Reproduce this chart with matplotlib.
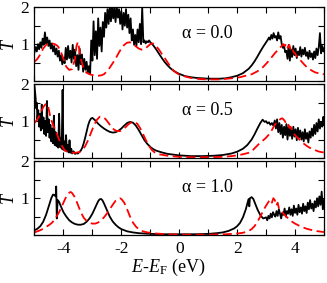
import numpy as np
import matplotlib
matplotlib.use('Agg')
import matplotlib.pyplot as plt
from matplotlib.ticker import MultipleLocator

plt.rcParams['font.family'] = 'serif'
plt.rcParams['font.serif'] = ['Liberation Serif', 'DejaVu Serif']
plt.rcParams['mathtext.fontset'] = 'custom'
plt.rcParams['mathtext.rm'] = 'Liberation Serif'
plt.rcParams['mathtext.it'] = 'Liberation Serif:italic'
plt.rcParams['axes.unicode_minus'] = False

alphas = ['0.0', '0.5', '1.0']
xticks = [-4, -2, 0, 2, 4]

# (E-E_F, T)
solid_a00 = [
    (-5.00, 0.78), (-4.96, 0.92), (-4.92, 0.80), (-4.88, 1.00), (-4.84, 0.86), (-4.80, 1.05),
    (-4.76, 0.90), (-4.72, 1.15), (-4.68, 0.98), (-4.64, 1.32), (-4.60, 1.02), (-4.56, 1.18),
    (-4.52, 0.95), (-4.48, 1.10), (-4.44, 0.88), (-4.40, 1.02), (-4.36, 0.80), (-4.32, 0.95),
    (-4.28, 0.72), (-4.24, 0.88), (-4.20, 0.66), (-4.16, 0.82), (-4.12, 0.55), (-4.08, 0.70),
    (-4.04, 0.45), (-4.00, 0.62), (-3.96, 0.48), (-3.92, 0.90), (-3.88, 0.58), (-3.84, 0.95),
    (-3.80, 0.62), (-3.76, 0.82), (-3.72, 0.50), (-3.68, 0.98), (-3.64, 0.60), (-3.60, 0.85),
    (-3.56, 0.40), (-3.52, 0.70), (-3.48, 0.30), (-3.44, 0.88), (-3.40, 0.45), (-3.36, 0.72),
    (-3.32, 0.25), (-3.28, 0.60), (-3.24, 0.30), (-3.20, 0.52), (-3.16, 0.22), (-3.12, 0.40),
    (-3.08, 0.18), (-3.04, 1.10), (-3.00, 0.55), (-2.96, 1.62), (-2.92, 0.70), (-2.88, 1.35),
    (-2.84, 0.60), (-2.80, 1.70), (-2.76, 0.95), (-2.72, 1.45), (-2.68, 0.80), (-2.64, 1.60),
    (-2.60, 1.20), (-2.56, 1.85), (-2.52, 1.45), (-2.48, 1.95), (-2.44, 1.55), (-2.40, 2.05),
    (-2.36, 1.62), (-2.32, 2.05), (-2.28, 1.70), (-2.24, 1.98), (-2.20, 1.60), (-2.16, 2.05),
    (-2.12, 1.72), (-2.08, 1.95), (-2.04, 1.55), (-2.00, 1.90), (-1.96, 1.40), (-1.92, 1.85),
    (-1.88, 1.50), (-1.84, 1.95), (-1.80, 1.45), (-1.76, 1.80), (-1.72, 1.30), (-1.68, 1.70),
    (-1.64, 1.10), (-1.60, 1.40), (-1.56, 0.98), (-1.52, 1.25), (-1.48, 0.95), (-1.44, 1.40),
    (-1.40, 1.05), (-1.36, 1.55), (-1.32, 1.00), (-1.28, 2.00), (-1.24, 1.05), (-1.20, 1.10),
    (-1.16, 1.02), (-1.12, 1.08), (-1.08, 1.05), (-1.04, 1.10), (-1.00, 1.05), (-0.90, 0.97),
    (-0.80, 0.86), (-0.70, 0.74), (-0.60, 0.62), (-0.50, 0.51), (-0.40, 0.42), (-0.30, 0.34),
    (-0.20, 0.28), (-0.10, 0.23), (0.00, 0.19), (0.20, 0.13), (0.40, 0.10), (0.60, 0.08),
    (0.80, 0.07), (1.00, 0.06), (1.20, 0.06), (1.40, 0.06), (1.60, 0.07), (1.80, 0.10),
    (2.00, 0.14), (2.20, 0.21), (2.40, 0.33), (2.50, 0.42), (2.60, 0.53), (2.70, 0.66),
    (2.80, 0.80), (2.90, 0.93), (3.00, 1.05), (3.06, 1.12), (3.10, 1.18), (3.14, 1.12),
    (3.18, 1.25), (3.22, 1.15), (3.26, 1.30), (3.30, 1.18), (3.34, 1.22), (3.38, 1.10),
    (3.42, 1.32), (3.46, 1.15), (3.50, 1.22), (3.54, 1.00), (3.58, 0.90), (3.62, 0.95),
    (3.66, 0.78), (3.70, 0.82), (3.74, 0.60), (3.78, 0.98), (3.82, 0.55), (3.86, 0.85),
    (3.90, 0.65), (3.94, 0.95), (3.98, 0.70), (4.02, 0.88), (4.06, 0.62), (4.10, 0.80),
    (4.14, 0.70), (4.18, 0.92), (4.22, 0.66), (4.26, 0.85), (4.30, 0.72), (4.34, 0.90),
    (4.38, 0.68), (4.42, 0.78), (4.46, 0.60), (4.50, 0.82), (4.54, 0.65), (4.58, 0.75),
    (4.62, 0.58), (4.66, 0.80), (4.70, 0.62), (4.74, 0.88), (4.78, 0.70), (4.82, 0.92),
    (4.86, 1.30), (4.90, 0.75), (4.94, 0.95), (4.98, 0.80), (5.00, 0.88),
]
dashed_a00 = [
    (-5.00, 0.52), (-4.90, 0.60), (-4.80, 0.72), (-4.70, 0.88), (-4.60, 0.98), (-4.50, 1.02),
    (-4.40, 1.02), (-4.30, 1.00), (-4.20, 0.95), (-4.10, 0.82), (-4.00, 0.60), (-3.90, 0.38),
    (-3.80, 0.30), (-3.70, 0.32), (-3.60, 0.60), (-3.55, 0.95), (-3.50, 1.06), (-3.45, 0.85),
    (-3.40, 0.60), (-3.30, 0.32), (-3.20, 0.22), (-3.10, 0.18), (-3.00, 0.16), (-2.80, 0.14),
    (-2.70, 0.15), (-2.60, 0.18), (-2.45, 0.30), (-2.30, 0.48), (-2.20, 0.60), (-2.10, 0.75),
    (-2.00, 0.88), (-1.90, 0.98), (-1.80, 1.04), (-1.70, 1.05), (-1.60, 1.00), (-1.50, 0.94),
    (-1.40, 0.88), (-1.30, 0.85), (-1.20, 0.86), (-1.10, 0.93), (-1.00, 1.00), (-0.90, 1.02),
    (-0.80, 0.95), (-0.70, 0.85), (-0.60, 0.73), (-0.50, 0.62), (-0.40, 0.50), (-0.30, 0.38),
    (-0.20, 0.28), (-0.10, 0.22), (0.00, 0.17), (0.20, 0.12), (0.40, 0.08), (0.70, 0.05),
    (1.00, 0.04), (1.40, 0.04), (1.80, 0.07), (2.10, 0.10), (2.30, 0.14), (2.50, 0.18),
    (2.70, 0.26), (2.90, 0.38), (3.10, 0.55), (3.30, 0.75), (3.50, 0.92), (3.60, 1.00),
    (3.65, 0.95), (3.70, 1.02), (3.75, 0.90), (3.80, 0.98), (3.85, 0.85), (3.90, 0.90),
    (3.95, 0.78), (4.00, 0.75), (4.10, 0.62), (4.20, 0.55), (4.30, 0.46), (4.40, 0.38),
    (4.50, 0.32), (4.60, 0.27), (4.70, 0.23), (4.80, 0.21), (4.90, 0.19), (5.00, 0.18),
]

solid_a05 = [
    (-5.00, 1.95), (-4.98, 1.80), (-4.96, 1.62), (-4.94, 1.35), (-4.92, 1.50), (-4.90, 1.05),
    (-4.87, 1.30), (-4.84, 0.85), (-4.81, 1.20), (-4.78, 0.75), (-4.75, 1.45), (-4.72, 0.80),
    (-4.69, 1.10), (-4.66, 0.65), (-4.63, 1.00), (-4.60, 0.60), (-4.57, 1.55), (-4.54, 0.70),
    (-4.51, 1.05), (-4.48, 0.55), (-4.45, 0.90), (-4.42, 0.45), (-4.39, 0.80), (-4.36, 0.40),
    (-4.33, 1.15), (-4.30, 0.35), (-4.27, 0.70), (-4.24, 0.32), (-4.21, 0.60), (-4.18, 0.28),
    (-4.15, 1.20), (-4.12, 0.30), (-4.09, 0.55), (-4.06, 0.25), (-4.03, 1.85), (-4.00, 0.22),
    (-3.97, 0.45), (-3.94, 0.20), (-3.91, 0.62), (-3.88, 0.18), (-3.85, 0.35), (-3.82, 0.15),
    (-3.79, 0.48), (-3.76, 0.14), (-3.73, 0.25), (-3.70, 0.12), (-3.65, 0.18), (-3.60, 0.11),
    (-3.55, 0.13), (-3.50, 0.12), (-3.45, 0.16), (-3.40, 0.20), (-3.35, 0.28), (-3.30, 0.40),
    (-3.25, 0.55), (-3.20, 0.72), (-3.15, 0.88), (-3.10, 1.00), (-3.05, 1.07), (-3.00, 1.09),
    (-2.90, 1.02), (-2.80, 0.93), (-2.70, 0.86), (-2.60, 0.80), (-2.50, 0.75), (-2.40, 0.71),
    (-2.30, 0.69), (-2.20, 0.70), (-2.10, 0.74), (-2.00, 0.80), (-1.90, 0.88), (-1.80, 0.95),
    (-1.70, 0.98), (-1.60, 0.96), (-1.50, 0.88), (-1.40, 0.76), (-1.30, 0.62), (-1.20, 0.48),
    (-1.10, 0.38), (-1.00, 0.30), (-0.90, 0.24), (-0.80, 0.20), (-0.60, 0.15), (-0.40, 0.11),
    (-0.20, 0.09), (0.00, 0.07), (0.40, 0.05), (0.80, 0.05), (1.20, 0.06), (1.50, 0.08),
    (1.80, 0.12), (2.00, 0.17), (2.20, 0.25), (2.35, 0.35), (2.50, 0.50), (2.60, 0.64),
    (2.70, 0.80), (2.80, 0.95), (2.88, 1.04), (2.95, 0.98), (3.00, 1.00), (3.05, 0.94),
    (3.10, 0.97), (3.15, 0.90), (3.20, 0.95), (3.25, 0.88), (3.30, 1.02), (3.34, 0.80),
    (3.38, 1.05), (3.42, 0.70), (3.46, 0.95), (3.50, 0.65), (3.54, 0.90), (3.58, 0.55),
    (3.62, 0.85), (3.66, 0.62), (3.70, 0.92), (3.74, 0.50), (3.78, 0.88), (3.82, 0.60),
    (3.86, 0.80), (3.90, 0.52), (3.94, 0.85), (3.98, 0.58), (4.02, 0.78), (4.06, 0.48),
    (4.10, 0.82), (4.14, 0.55), (4.18, 0.75), (4.22, 0.50), (4.26, 0.70), (4.30, 0.45),
    (4.34, 0.78), (4.38, 0.52), (4.42, 0.68), (4.46, 0.42), (4.50, 0.72), (4.54, 0.55),
    (4.58, 0.80), (4.62, 0.60), (4.66, 0.90), (4.70, 0.65), (4.74, 0.95), (4.78, 0.72),
    (4.82, 1.05), (4.86, 0.80), (4.90, 0.98), (4.94, 0.85), (4.98, 1.12), (5.00, 0.90),
]
dashed_a05 = [
    (-5.00, 0.95), (-4.90, 1.05), (-4.80, 1.20), (-4.70, 1.38), (-4.60, 1.48), (-4.55, 1.45),
    (-4.50, 1.30), (-4.45, 1.10), (-4.35, 0.88), (-4.25, 0.70), (-4.15, 0.50), (-4.05, 0.32),
    (-3.95, 0.20), (-3.80, 0.15), (-3.60, 0.14), (-3.45, 0.16), (-3.35, 0.22), (-3.25, 0.32),
    (-3.15, 0.48), (-3.05, 0.68), (-2.95, 0.88), (-2.85, 1.03), (-2.75, 1.12), (-2.65, 1.12),
    (-2.55, 1.06), (-2.45, 0.96), (-2.35, 0.85), (-2.25, 0.77), (-2.15, 0.73), (-2.05, 0.73),
    (-1.95, 0.77), (-1.85, 0.84), (-1.75, 0.92), (-1.65, 0.97), (-1.55, 0.98), (-1.45, 0.93),
    (-1.35, 0.81), (-1.25, 0.65), (-1.15, 0.48), (-1.05, 0.33), (-0.95, 0.22), (-0.85, 0.15),
    (-0.70, 0.10), (-0.40, 0.06), (0.00, 0.03), (0.50, 0.02), (1.00, 0.02), (1.50, 0.03),
    (1.80, 0.05), (2.00, 0.07), (2.20, 0.10), (2.40, 0.14), (2.50, 0.18), (2.60, 0.26),
    (2.70, 0.34), (2.80, 0.42), (2.90, 0.48), (3.00, 0.55), (3.10, 0.64), (3.20, 0.76),
    (3.30, 0.90), (3.40, 1.00), (3.50, 1.06), (3.55, 1.08), (3.60, 1.05), (3.65, 1.00),
    (3.70, 0.92), (3.75, 0.95), (3.80, 0.82), (3.85, 0.85), (3.90, 0.72), (4.00, 0.62),
    (4.10, 0.54), (4.20, 0.46), (4.30, 0.39), (4.40, 0.33), (4.50, 0.28), (4.60, 0.24),
    (4.70, 0.21), (4.80, 0.18), (4.90, 0.16), (5.00, 0.15),
]

solid_a10 = [
    (-5.00, 0.13), (-4.90, 0.17), (-4.80, 0.24), (-4.70, 0.36), (-4.60, 0.55), (-4.50, 0.80),
    (-4.42, 1.00), (-4.36, 1.10), (-4.30, 1.08), (-4.27, 1.05), (-4.25, 1.32), (-4.23, 0.45),
    (-4.20, 0.95), (-4.15, 0.90), (-4.10, 0.80), (-4.00, 0.62), (-3.90, 0.50), (-3.80, 0.40),
    (-3.70, 0.34), (-3.60, 0.30), (-3.50, 0.28), (-3.40, 0.28), (-3.30, 0.30), (-3.20, 0.36),
    (-3.10, 0.45), (-3.00, 0.58), (-2.90, 0.75), (-2.80, 0.92), (-2.75, 0.97), (-2.70, 0.98),
    (-2.65, 0.94), (-2.60, 0.86), (-2.50, 0.68), (-2.40, 0.50), (-2.30, 0.37), (-2.20, 0.28),
    (-2.10, 0.21), (-2.00, 0.16), (-1.80, 0.10), (-1.60, 0.07), (-1.40, 0.05), (-1.20, 0.04),
    (-1.00, 0.03), (-0.50, 0.02), (0.00, 0.02), (0.50, 0.02), (1.00, 0.03), (1.30, 0.05),
    (1.50, 0.07), (1.70, 0.11), (1.90, 0.18), (2.00, 0.24), (2.10, 0.33), (2.20, 0.48),
    (2.30, 0.70), (2.36, 0.88), (2.40, 0.98), (2.42, 0.78), (2.44, 1.00), (2.50, 1.03),
    (2.56, 0.98), (2.62, 0.86), (2.70, 0.70), (2.80, 0.54), (2.90, 0.45), (3.00, 0.48),
    (3.04, 0.40), (3.08, 0.52), (3.12, 0.45), (3.16, 0.58), (3.20, 0.48), (3.24, 0.62),
    (3.28, 0.55), (3.32, 0.50), (3.36, 0.65), (3.40, 0.52), (3.44, 0.70), (3.48, 0.58),
    (3.52, 0.45), (3.56, 0.60), (3.60, 0.55), (3.64, 0.72), (3.68, 0.50), (3.72, 0.65),
    (3.76, 0.58), (3.80, 0.75), (3.84, 0.55), (3.88, 0.70), (3.92, 0.52), (3.96, 0.80),
    (4.00, 0.60), (4.04, 0.72), (4.08, 0.55), (4.12, 0.82), (4.16, 0.62), (4.20, 0.75),
    (4.24, 0.58), (4.28, 0.85), (4.32, 0.65), (4.36, 0.78), (4.40, 0.60), (4.44, 0.88),
    (4.48, 0.70), (4.52, 0.95), (4.56, 0.72), (4.60, 0.85), (4.64, 0.65), (4.68, 0.92),
    (4.72, 0.75), (4.76, 1.00), (4.80, 0.78), (4.84, 1.05), (4.88, 0.82), (4.92, 1.18),
    (4.96, 0.70), (5.00, 0.95),
]
dashed_a10 = [
    (-5.00, 0.07), (-4.90, 0.10), (-4.80, 0.13), (-4.70, 0.17), (-4.60, 0.22), (-4.50, 0.27),
    (-4.40, 0.33), (-4.30, 0.42), (-4.20, 0.55), (-4.10, 0.70), (-4.00, 0.88), (-3.90, 1.05),
    (-3.80, 1.15), (-3.75, 1.17), (-3.70, 1.14), (-3.60, 1.02), (-3.50, 0.82), (-3.40, 0.62),
    (-3.30, 0.47), (-3.20, 0.38), (-3.10, 0.33), (-3.00, 0.31), (-2.90, 0.31), (-2.80, 0.34),
    (-2.70, 0.40), (-2.60, 0.48), (-2.50, 0.58), (-2.40, 0.70), (-2.30, 0.82), (-2.20, 0.93),
    (-2.10, 0.99), (-2.05, 1.00), (-2.00, 0.98), (-1.90, 0.88), (-1.80, 0.70), (-1.70, 0.50),
    (-1.60, 0.34), (-1.50, 0.23), (-1.40, 0.16), (-1.30, 0.11), (-1.10, 0.07), (-0.80, 0.04),
    (-0.40, 0.02), (0.00, 0.01), (1.00, 0.01), (1.60, 0.02), (2.00, 0.04), (2.20, 0.06),
    (2.40, 0.11), (2.50, 0.16), (2.60, 0.24), (2.70, 0.36), (2.80, 0.50), (2.90, 0.66),
    (3.00, 0.80), (3.10, 0.92), (3.15, 0.96), (3.20, 0.88), (3.25, 1.00), (3.30, 0.95),
    (3.35, 0.80), (3.40, 0.88), (3.45, 0.70), (3.50, 0.68), (3.60, 0.58), (3.70, 0.50),
    (3.80, 0.42), (3.90, 0.36), (4.00, 0.31), (4.20, 0.23), (4.40, 0.17), (4.60, 0.13),
    (4.80, 0.10), (5.00, 0.08),
]

solids = [solid_a00, solid_a05, solid_a10]
dashes = [dashed_a00, dashed_a05, dashed_a10]

fig, axes = plt.subplots(3, 1, figsize=(3.27, 2.83), dpi=100, sharex=True)
fig.subplots_adjust(left=0.1055, right=0.9908, top=0.974, bottom=0.1696, hspace=0.048)

for ax, a, s, d in zip(axes, alphas, solids, dashes):
    s = np.array(s)
    d = np.array(d)
    ax.plot(s[:, 0], s[:, 1], color='black', lw=1.3)
    ax.plot(d[:, 0], d[:, 1], color='red', lw=1.3, dashes=(5, 2.5))
    ax.set_xlim(-5, 5)
    ax.set_ylim(0, 2)
    ax.set_yticks([1, 2])
    ax.yaxis.set_minor_locator(MultipleLocator(0.5))
    ax.set_xticks(xticks)
    ax.xaxis.set_minor_locator(MultipleLocator(1))
    ax.tick_params(which='both', direction='in', top=True, right=True,
                   length=4.5, width=0.8, labelsize=12.5, pad=4)
    for sp in ax.spines.values():
        sp.set_linewidth(0.9)
    ax.set_ylabel(r'$T$', fontsize=13)
    ax.yaxis.set_label_coords(-0.058, 0.5)
    ax.text(0.596, 0.645, '\u03b1 = ' + a, transform=ax.transAxes,
            ha='center', va='center', fontsize=13)

axes[-1].set_xlabel(r'$E$-$E_{\mathrm{F}}$ (eV)', fontsize=13, labelpad=1)
axes[-1].xaxis.set_label_coords(0.461, -0.3)

fig.savefig('out.png', dpi=100)
